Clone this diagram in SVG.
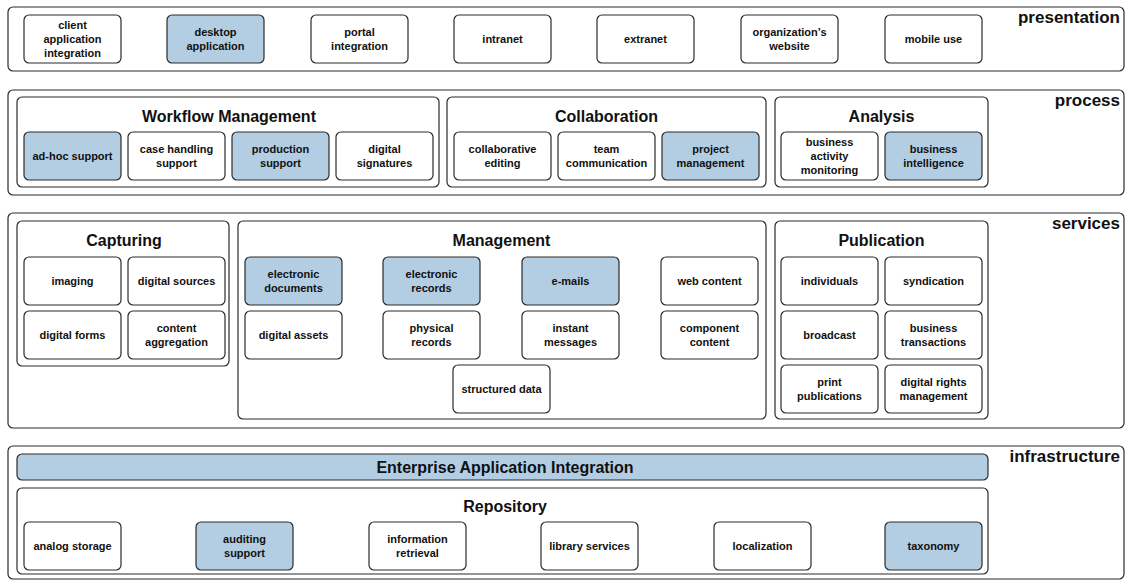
<svg xmlns="http://www.w3.org/2000/svg" width="1126" height="584" viewBox="0 0 1126 584">
  <style>
    .layer { fill: #ffffff; stroke: #2b2b2b; stroke-width: 1.2; }
    .group { fill: #ffffff; stroke: #2b2b2b; stroke-width: 1.2; }
    .n { fill: #ffffff; stroke: #2b2b2b; stroke-width: 1.2; }
    .hl { fill: #b3cde3; }
    text { font-family: "Liberation Sans", Arial, sans-serif; font-weight: bold; fill: #111111; }
    .t { font-size: 11px; text-anchor: middle; }
    .h { font-size: 16px; text-anchor: middle; }
    .lbl { font-size: 17px; text-anchor: end; }
  </style>
  <rect width="1126" height="584" fill="#ffffff"/>

  <!-- layer frames -->
  <g id="layers">
    <rect class="layer" x="8" y="7" width="1116" height="64" rx="5"/>
    <text class="lbl" x="1120" y="23">presentation</text>
    <rect class="layer" x="8" y="90" width="1116" height="105" rx="5"/>
    <text class="lbl" x="1120" y="106">process</text>
    <rect class="layer" x="8" y="213" width="1116" height="215" rx="5"/>
    <text class="lbl" x="1120" y="229">services</text>
    <rect class="layer" x="8" y="446" width="1116" height="133" rx="5"/>
    <text class="lbl" x="1120" y="462">infrastructure</text>
  </g>

  <!-- presentation -->
  <g id="client-application-integration"><rect class="n" x="24" y="15" width="97" height="48" rx="5"/><text class="t" x="72.5" y="29">client</text><text class="t" x="72.5" y="43">application</text><text class="t" x="72.5" y="57">integration</text></g>
  <g id="desktop-application"><rect class="n hl" x="167" y="15" width="97" height="48" rx="5"/><text class="t" x="215.5" y="36">desktop</text><text class="t" x="215.5" y="50">application</text></g>
  <g id="portal-integration"><rect class="n" x="311" y="15" width="97" height="48" rx="5"/><text class="t" x="359.5" y="36">portal</text><text class="t" x="359.5" y="50">integration</text></g>
  <g id="intranet"><rect class="n" x="454" y="15" width="97" height="48" rx="5"/><text class="t" x="502.5" y="43">intranet</text></g>
  <g id="extranet"><rect class="n" x="597" y="15" width="97" height="48" rx="5"/><text class="t" x="645.5" y="43">extranet</text></g>
  <g id="organizations-website"><rect class="n" x="741" y="15" width="97" height="48" rx="5"/><text class="t" x="789.5" y="36">organization’s</text><text class="t" x="789.5" y="50">website</text></g>
  <g id="mobile-use"><rect class="n" x="885" y="15" width="97" height="48" rx="5"/><text class="t" x="933.5" y="43">mobile use</text></g>

  <!-- process -->
  <g id="workflow-management">
    <rect class="group" x="17" y="97" width="422" height="90" rx="5"/>
    <text class="h" x="229" y="122">Workflow Management</text>
  </g>
  <g id="ad-hoc-support"><rect class="n hl" x="24" y="132" width="97" height="48" rx="5"/><text class="t" x="72.5" y="160">ad-hoc support</text></g>
  <g id="case-handling-support"><rect class="n" x="128" y="132" width="97" height="48" rx="5"/><text class="t" x="176.5" y="153">case handling</text><text class="t" x="176.5" y="167">support</text></g>
  <g id="production-support"><rect class="n hl" x="232" y="132" width="97" height="48" rx="5"/><text class="t" x="280.5" y="153">production</text><text class="t" x="280.5" y="167">support</text></g>
  <g id="digital-signatures"><rect class="n" x="336" y="132" width="97" height="48" rx="5"/><text class="t" x="384.5" y="153">digital</text><text class="t" x="384.5" y="167">signatures</text></g>

  <g id="collaboration">
    <rect class="group" x="447" y="97" width="319" height="90" rx="5"/>
    <text class="h" x="606.5" y="122">Collaboration</text>
  </g>
  <g id="collaborative-editing"><rect class="n" x="454" y="132" width="97" height="48" rx="5"/><text class="t" x="502.5" y="153">collaborative</text><text class="t" x="502.5" y="167">editing</text></g>
  <g id="team-communication"><rect class="n" x="558" y="132" width="97" height="48" rx="5"/><text class="t" x="606.5" y="153">team</text><text class="t" x="606.5" y="167">communication</text></g>
  <g id="project-management"><rect class="n hl" x="662" y="132" width="97" height="48" rx="5"/><text class="t" x="710.5" y="153">project</text><text class="t" x="710.5" y="167">management</text></g>

  <g id="analysis">
    <rect class="group" x="775" y="97" width="213" height="90" rx="5"/>
    <text class="h" x="881.5" y="122">Analysis</text>
  </g>
  <g id="business-activity-monitoring"><rect class="n" x="781" y="132" width="97" height="48" rx="5"/><text class="t" x="829.5" y="146">business</text><text class="t" x="829.5" y="160">activity</text><text class="t" x="829.5" y="174">monitoring</text></g>
  <g id="business-intelligence"><rect class="n hl" x="885" y="132" width="97" height="48" rx="5"/><text class="t" x="933.5" y="153">business</text><text class="t" x="933.5" y="167">intelligence</text></g>

  <!-- services -->
  <g id="capturing">
    <rect class="group" x="17" y="221" width="212" height="145" rx="5"/>
    <text class="h" x="124" y="246">Capturing</text>
  </g>
  <g id="imaging"><rect class="n" x="24" y="257" width="97" height="48" rx="5"/><text class="t" x="72.5" y="285">imaging</text></g>
  <g id="digital-sources"><rect class="n" x="128" y="257" width="97" height="48" rx="5"/><text class="t" x="176.5" y="285">digital sources</text></g>
  <g id="digital-forms"><rect class="n" x="24" y="311" width="97" height="48" rx="5"/><text class="t" x="72.5" y="339">digital forms</text></g>
  <g id="content-aggregation"><rect class="n" x="128" y="311" width="97" height="48" rx="5"/><text class="t" x="176.5" y="332">content</text><text class="t" x="176.5" y="346">aggregation</text></g>

  <g id="management">
    <rect class="group" x="238" y="221" width="528" height="198" rx="5"/>
    <text class="h" x="501.5" y="246">Management</text>
  </g>
  <g id="electronic-documents"><rect class="n hl" x="245" y="257" width="97" height="48" rx="5"/><text class="t" x="293.5" y="278">electronic</text><text class="t" x="293.5" y="292">documents</text></g>
  <g id="digital-assets"><rect class="n" x="245" y="311" width="97" height="48" rx="5"/><text class="t" x="293.5" y="339">digital assets</text></g>
  <g id="electronic-records"><rect class="n hl" x="383" y="257" width="97" height="48" rx="5"/><text class="t" x="431.5" y="278">electronic</text><text class="t" x="431.5" y="292">records</text></g>
  <g id="physical-records"><rect class="n" x="383" y="311" width="97" height="48" rx="5"/><text class="t" x="431.5" y="332">physical</text><text class="t" x="431.5" y="346">records</text></g>
  <g id="e-mails"><rect class="n hl" x="522" y="257" width="97" height="48" rx="5"/><text class="t" x="570.5" y="285">e-mails</text></g>
  <g id="instant-messages"><rect class="n" x="522" y="311" width="97" height="48" rx="5"/><text class="t" x="570.5" y="332">instant</text><text class="t" x="570.5" y="346">messages</text></g>
  <g id="web-content"><rect class="n" x="661" y="257" width="97" height="48" rx="5"/><text class="t" x="709.5" y="285">web content</text></g>
  <g id="component-content"><rect class="n" x="661" y="311" width="97" height="48" rx="5"/><text class="t" x="709.5" y="332">component</text><text class="t" x="709.5" y="346">content</text></g>
  <g id="structured-data"><rect class="n" x="453" y="365" width="97" height="48" rx="5"/><text class="t" x="501.5" y="393">structured data</text></g>

  <g id="publication">
    <rect class="group" x="775" y="221" width="213" height="198" rx="5"/>
    <text class="h" x="881.5" y="246">Publication</text>
  </g>
  <g id="individuals"><rect class="n" x="781" y="257" width="97" height="48" rx="5"/><text class="t" x="829.5" y="285">individuals</text></g>
  <g id="syndication"><rect class="n" x="885" y="257" width="97" height="48" rx="5"/><text class="t" x="933.5" y="285">syndication</text></g>
  <g id="broadcast"><rect class="n" x="781" y="311" width="97" height="48" rx="5"/><text class="t" x="829.5" y="339">broadcast</text></g>
  <g id="business-transactions"><rect class="n" x="885" y="311" width="97" height="48" rx="5"/><text class="t" x="933.5" y="332">business</text><text class="t" x="933.5" y="346">transactions</text></g>
  <g id="print-publications"><rect class="n" x="781" y="365" width="97" height="48" rx="5"/><text class="t" x="829.5" y="386">print</text><text class="t" x="829.5" y="400">publications</text></g>
  <g id="digital-rights-management"><rect class="n" x="885" y="365" width="97" height="48" rx="5"/><text class="t" x="933.5" y="386">digital rights</text><text class="t" x="933.5" y="400">management</text></g>

  <!-- infrastructure -->
  <g id="enterprise-application-integration">
    <rect class="n hl" x="17" y="454" width="971" height="26" rx="5"/>
    <text class="h" x="505" y="473">Enterprise Application Integration</text>
  </g>
  <g id="repository">
    <rect class="group" x="17" y="488" width="971" height="86" rx="5"/>
    <text class="h" x="505" y="512">Repository</text>
  </g>
  <g id="analog-storage"><rect class="n" x="24" y="522" width="97" height="48" rx="5"/><text class="t" x="72.5" y="550">analog storage</text></g>
  <g id="auditing-support"><rect class="n hl" x="196" y="522" width="97" height="48" rx="5"/><text class="t" x="244.5" y="543">auditing</text><text class="t" x="244.5" y="557">support</text></g>
  <g id="information-retrieval"><rect class="n" x="369" y="522" width="97" height="48" rx="5"/><text class="t" x="417.5" y="543">information</text><text class="t" x="417.5" y="557">retrieval</text></g>
  <g id="library-services"><rect class="n" x="541" y="522" width="97" height="48" rx="5"/><text class="t" x="589.5" y="550">library services</text></g>
  <g id="localization"><rect class="n" x="714" y="522" width="97" height="48" rx="5"/><text class="t" x="762.5" y="550">localization</text></g>
  <g id="taxonomy"><rect class="n hl" x="885" y="522" width="97" height="48" rx="5"/><text class="t" x="933.5" y="550">taxonomy</text></g>

  <!-- this layered map has no connectors -->
  <g id="connectors"/>
</svg>
